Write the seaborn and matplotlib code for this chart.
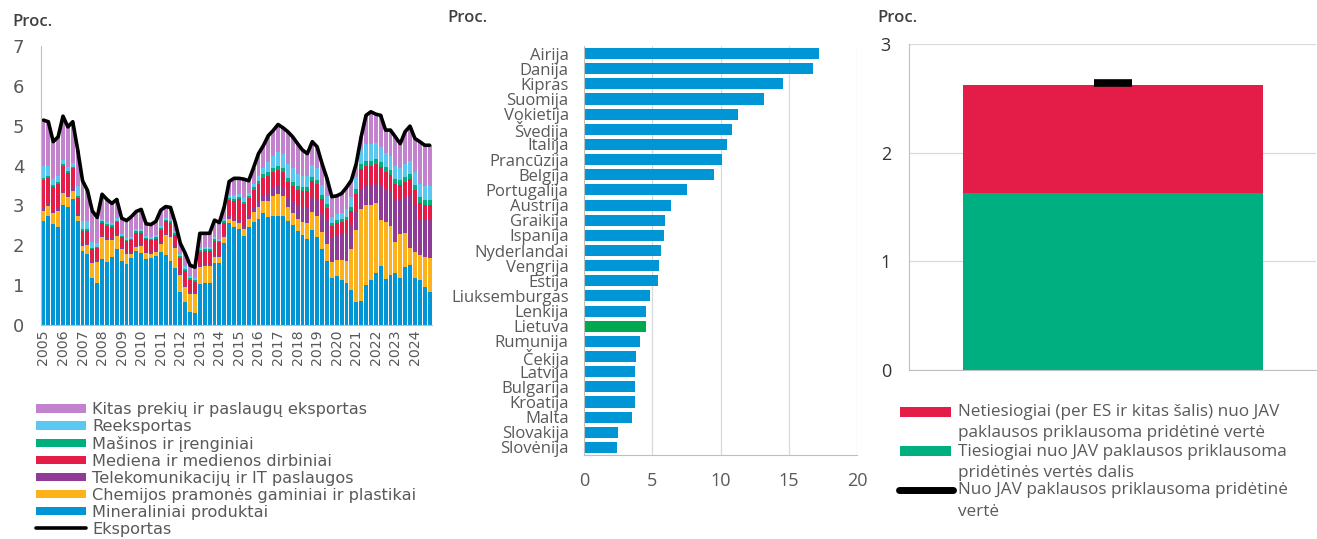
import numpy as np
import pandas as pd
import matplotlib
matplotlib.use('Agg')
import matplotlib.pyplot as plt
import seaborn as sns
from matplotlib.lines import Line2D
from matplotlib.patches import Rectangle

# ---------------- left panel: export contributions by quarter ----------------
years = list(range(2005, 2025))

mineral = [2.60, 2.73, 2.53, 2.46, 3.00, 2.95, 3.15, 2.62, 1.85, 1.78, 1.17, 1.06,
           1.65, 1.58, 1.71, 1.90, 1.60, 1.52, 1.68, 1.86, 1.80, 1.65, 1.68, 1.72,
           1.82, 1.75, 1.60, 1.42, 0.84, 0.58, 0.33, 0.29, 1.04, 1.05, 1.05, 1.56,
           1.55, 2.05, 2.55, 2.45, 2.42, 2.23, 2.46, 2.59, 2.67, 2.80, 2.70, 2.73,
           2.73, 2.73, 2.60, 2.50, 2.36, 2.26, 2.15, 2.38, 2.21, 1.90, 1.61, 1.19,
           1.23, 1.14, 1.06, 0.88, 0.58, 0.61, 1.00, 1.13, 1.31, 1.49, 1.15, 1.25,
           1.31, 1.17, 1.45, 1.51, 1.19, 1.13, 0.96, 0.84]
chem = [0.27, 0.25, 0.27, 0.40, 0.30, 0.25, 0.22, 0.12, 0.12, 0.22, 0.38, 0.53,
        0.57, 0.56, 0.42, 0.33, 0.30, 0.25, 0.10, 0.10, 0.17, 0.15, 0.10, 0.10,
        0.22, 0.50, 0.62, 0.50, 0.42, 0.38, 0.45, 0.50, 0.42, 0.42, 0.42, 0.15,
        0.15, 0.15, 0.12, 0.15, 0.15, 0.17, 0.20, 0.25, 0.30, 0.30, 0.40, 0.50,
        0.55, 0.50, 0.35, 0.30, 0.30, 0.33, 0.40, 0.46, 0.52, 0.44, 0.42, 0.40,
        0.40, 0.49, 0.55, 1.02, 1.80, 2.31, 2.01, 1.88, 1.74, 1.14, 1.44, 1.23,
        0.78, 1.11, 0.85, 0.41, 0.65, 0.62, 0.74, 0.83]
telecom = [0.08, 0.08, 0.07, 0.07, 0.06, 0.06, 0.06, 0.05, 0.05, 0.05, 0.05, 0.05,
           0.05, 0.05, 0.05, 0.05, 0.05, 0.05, 0.05, 0.05, 0.05, 0.05, 0.05, 0.05,
           0.05, 0.05, 0.05, 0.05, 0.05, 0.05, 0.05, 0.05, 0.05, 0.05, 0.05, 0.05,
           0.05, 0.05, 0.06, 0.06, 0.08, 0.08, 0.08, 0.10, 0.12, 0.15, 0.18, 0.20,
           0.20, 0.22, 0.25, 0.30, 0.35, 0.38, 0.42, 0.38, 0.40, 0.48, 0.60, 0.60,
           0.62, 0.65, 0.70, 0.60, 0.46, 0.50, 0.47, 0.50, 0.50, 0.88, 0.81, 0.86,
           1.06, 0.85, 0.90, 1.35, 1.14, 0.92, 0.93, 0.96]
wood = [0.70, 0.62, 0.60, 0.60, 0.62, 0.55, 0.50, 0.40, 0.35, 0.32, 0.30, 0.28,
        0.30, 0.30, 0.28, 0.30, 0.25, 0.28, 0.30, 0.30, 0.30, 0.30, 0.30, 0.30,
        0.30, 0.30, 0.30, 0.30, 0.38, 0.35, 0.30, 0.25, 0.32, 0.34, 0.34, 0.35,
        0.32, 0.32, 0.40, 0.45, 0.50, 0.55, 0.45, 0.45, 0.45, 0.45, 0.45, 0.40,
        0.40, 0.38, 0.40, 0.40, 0.38, 0.38, 0.38, 0.40, 0.40, 0.35, 0.30, 0.30,
        0.30, 0.30, 0.32, 0.35, 0.45, 0.50, 0.50, 0.48, 0.48, 0.45, 0.45, 0.42,
        0.40, 0.38, 0.40, 0.40, 0.40, 0.40, 0.38, 0.38]
machinery = [0.05, 0.05, 0.05, 0.05, 0.05, 0.05, 0.04, 0.04, 0.04, 0.04, 0.04, 0.04,
             0.04, 0.04, 0.04, 0.04, 0.04, 0.04, 0.04, 0.04, 0.04, 0.04, 0.04, 0.04,
             0.05, 0.04, 0.04, 0.04, 0.04, 0.04, 0.04, 0.04, 0.04, 0.04, 0.04, 0.04,
             0.04, 0.04, 0.05, 0.05, 0.05, 0.05, 0.05, 0.06, 0.07, 0.08, 0.10, 0.10,
             0.10, 0.10, 0.10, 0.10, 0.10, 0.10, 0.10, 0.10, 0.10, 0.10, 0.10, 0.08,
             0.08, 0.08, 0.08, 0.10, 0.12, 0.12, 0.13, 0.13, 0.13, 0.12, 0.12, 0.12,
             0.12, 0.12, 0.12, 0.12, 0.13, 0.13, 0.13, 0.13]
reexport = [0.30, 0.25, 0.15, 0.15, 0.12, 0.10, 0.10, 0.25, 0.20, 0.20, 0.15, 0.10,
            0.06, 0.06, 0.06, 0.06, 0.05, 0.05, 0.05, 0.05, 0.05, 0.05, 0.05, 0.05,
            0.05, 0.05, 0.05, 0.06, 0.06, 0.08, 0.06, 0.05, 0.05, 0.05, 0.05, 0.05,
            0.05, 0.05, 0.08, 0.10, 0.08, 0.10, 0.08, 0.10, 0.12, 0.15, 0.25, 0.30,
            0.35, 0.35, 0.35, 0.35, 0.30, 0.30, 0.30, 0.30, 0.30, 0.25, 0.20, 0.15,
            0.15, 0.15, 0.20, 0.25, 0.30, 0.38, 0.42, 0.42, 0.40, 0.38, 0.35, 0.35,
            0.32, 0.30, 0.32, 0.32, 0.32, 0.35, 0.35, 0.35]
other = [1.14, 1.12, 0.93, 0.99, 1.09, 1.01, 1.03, 0.92, 1.01, 0.77, 0.77, 0.64,
         0.61, 0.56, 0.49, 0.47, 0.39, 0.43, 0.50, 0.45, 0.49, 0.30, 0.30, 0.34,
         0.39, 0.28, 0.29, 0.20, 0.26, 0.32, 0.27, 0.27, 0.38, 0.35, 0.35, 0.43,
         0.41, 0.31, 0.34, 0.42, 0.40, 0.48, 0.30, 0.40, 0.57, 0.57, 0.67, 0.65,
         0.70, 0.67, 0.80, 0.77, 0.76, 0.64, 0.55, 0.58, 0.54, 0.53, 0.45, 0.50,
         0.46, 0.49, 0.54, 0.43, 0.34, 0.30, 0.73, 0.81, 0.73, 0.80, 0.57, 0.66,
         0.73, 0.62, 0.81, 0.88, 0.85, 1.05, 1.02, 1.02]
exports = [5.14, 5.10, 4.60, 4.72, 5.24, 4.97, 5.10, 4.40, 3.62, 3.38, 2.86, 2.70,
           3.28, 3.15, 3.05, 3.15, 2.68, 2.62, 2.72, 2.85, 2.90, 2.54, 2.52, 2.60,
           2.88, 2.97, 2.95, 2.55, 2.05, 1.80, 1.50, 1.45, 2.30, 2.30, 2.30, 2.63,
           2.57, 2.97, 3.60, 3.68, 3.68, 3.66, 3.62, 3.95, 4.30, 4.50, 4.75, 4.88,
           5.03, 4.95, 4.85, 4.72, 4.55, 4.39, 4.30, 4.60, 4.47, 4.05, 3.68, 3.22,
           3.24, 3.30, 3.45, 3.63, 4.05, 4.72, 5.26, 5.35, 5.29, 5.26, 4.89, 4.89,
           4.72, 4.55, 4.85, 4.99, 4.68, 4.60, 4.51, 4.51]

# bottom-to-top stacking order
layers = [
    ('Mineraliniai produktai', mineral, '#0096D6'),
    ('Chemijos pramonės gaminiai ir plastikai', chem, '#FDB11B'),
    ('Telekomunikacijų ir IT paslaugos', telecom, '#8E3C97'),
    ('Mediena ir medienos dirbiniai', wood, '#E31D48'),
    ('Mašinos ir įrenginiai', machinery, '#00B07C'),
    ('Reeksportas', reexport, '#5BC8F2'),
    ('Kitas prekių ir paslaugų eksportas', other, '#C282CE'),
]

# ---------------- middle panel: countries ----------------
countries = ['Airija', 'Danija', 'Kipras', 'Suomija', 'Vokietija', 'Švedija', 'Italija',
             'Prancūzija', 'Belgija', 'Portugalija', 'Austrija', 'Graikija', 'Ispanija',
             'Nyderlandai', 'Vengrija', 'Estija', 'Liuksemburgas', 'Lenkija', 'Lietuva',
             'Rumunija', 'Čekija', 'Latvija', 'Bulgarija', 'Kroatija', 'Malta',
             'Slovakija', 'Slovėnija']
country_share = [17.2, 16.8, 14.6, 13.2, 11.3, 10.85, 10.45, 10.1, 9.5, 7.55, 6.4, 5.95,
                 5.85, 5.65, 5.5, 5.4, 4.85, 4.55, 4.55, 4.1, 3.8, 3.7, 3.7, 3.7, 3.5,
                 2.5, 2.4]

# ---------------- right panel: value added dependent on US demand ----------------
direct_share = 1.63
indirect_share = 0.99
total_share = 2.64

grey_text = '#595959'
axis_grey = '#BFBFBF'
grid_grey = '#D9D9D9'

sns.set_theme(style='white')
plt.rcParams['font.family'] = ['DejaVu Sans']

fig = plt.figure(figsize=(13.17, 5.39), dpi=100)
W, H = 1317.0, 539.0


def fx(px):
    return px / W


def fy(py):
    return 1 - py / H


ax1 = fig.add_axes([fx(41), fy(325), fx(432) - fx(41), fy(46) - fy(325)])
ax2 = fig.add_axes([fx(584), fy(455), fx(857) - fx(584), fy(46) - fy(455)])
ax3 = fig.add_axes([fx(909), fy(370), fx(1316) - fx(909), fy(44) - fy(370)])

# ---- left chart ----
x = np.arange(len(exports))
bottom = np.zeros(len(x))
for label, vals, col in layers:
    ax1.bar(x, vals, bottom=bottom, width=0.8, color=col, label=label, linewidth=0)
    bottom = bottom + np.array(vals)
sns.lineplot(x=x, y=exports, ax=ax1, color='black', linewidth=2.6, label='Eksportas')
for ln in ax1.lines:
    ln.set_solid_joinstyle('round')

ax1.set_xlim(-0.5, len(x) - 0.5)
ax1.set_ylim(0, 7)
ax1.set_yticks(range(0, 8))
ax1.set_xticks(x[::4])
ax1.set_xticklabels([str(y) for y in years], rotation=90)
ax1.tick_params(axis='y', labelsize=13, colors=grey_text, length=0, pad=12)
ax1.tick_params(axis='x', labelsize=10.2, colors=grey_text, length=0, pad=3)
for s in ['top', 'right']:
    ax1.spines[s].set_visible(False)
for s in ['left', 'bottom']:
    ax1.spines[s].set_color(axis_grey)
    ax1.spines[s].set_linewidth(0.8)
ax1.set_xlabel('')
ax1.set_ylabel('')

handles, labels = ax1.get_legend_handles_labels()
order = [labels.index(l[0]) for l in layers[::-1]] + [labels.index('Eksportas')]
ax1.legend([handles[i] for i in order], [labels[i] for i in order],
           loc='upper left', bbox_to_anchor=(fx(36), fy(402)), bbox_transform=fig.transFigure,
           frameon=False, fontsize=11.6, labelspacing=0.12, handlelength=3.1,
           handleheight=0.45, handletextpad=0.4, borderpad=0, borderaxespad=0,
           labelcolor=grey_text)
fig.text(fx(12), fy(22), 'Proc.', fontsize=12, color='#404040', va='center', ha='left',
         family=['Open Sans', 'DejaVu Sans'], weight='semibold')

# ---- middle chart ----
df_c = pd.DataFrame({'country': countries, 'share': country_share})
palette = {c: ('#00A94F' if c == 'Lietuva' else '#0096D6') for c in countries}
sns.barplot(data=df_c, x='share', y='country', hue='country', palette=palette,
            legend=False, width=0.73, ax=ax2, saturation=1, linewidth=0)
ax2.set_xlim(0, 20)
ax2.set_xticks([0, 5, 10, 15, 20])
ax2.xaxis.grid(True, color=grid_grey, linewidth=0.9)
ax2.set_axisbelow(True)
ax2.set_xlabel('')
ax2.set_ylabel('')
ax2.tick_params(axis='y', labelsize=12, colors=grey_text, length=0, pad=11)
ax2.tick_params(axis='x', labelsize=13, colors=grey_text, length=0, pad=12)
for t in ax2.get_yticklabels() + ax2.get_xticklabels():
    t.set_family(['Open Sans', 'DejaVu Sans'])
for s in ['top', 'right']:
    ax2.spines[s].set_visible(False)
for s in ['left', 'bottom']:
    ax2.spines[s].set_color(axis_grey)
    ax2.spines[s].set_linewidth(0.8)
fig.text(fx(447), fy(18), 'Proc.', fontsize=12, color='#404040', va='center', ha='left',
         family=['Open Sans', 'DejaVu Sans'], weight='semibold')

# ---- right chart ----
green, red = '#00AF80', '#E31C48'
ax3.bar(0, direct_share, width=1.0, color=green, linewidth=0)
ax3.bar(0, indirect_share, bottom=direct_share, width=1.0, color=red, linewidth=0)
ax3.plot([0], [total_share], marker='_', markersize=27, markeredgewidth=5.5, color='black')
ax3.set_xlim(-0.68, 0.675)
ax3.set_ylim(0, 3)
ax3.set_yticks([0, 1, 2, 3])
ax3.set_xticks([])
ax3.yaxis.grid(True, color=grid_grey, linewidth=0.9)
ax3.set_axisbelow(True)
ax3.tick_params(axis='y', labelsize=13, colors='#333333', length=0, pad=13)
for t in ax3.get_yticklabels():
    t.set_family(['Open Sans', 'DejaVu Sans'])
for s in ['top', 'right']:
    ax3.spines[s].set_visible(False)
for s in ['left', 'bottom']:
    ax3.spines[s].set_color(axis_grey)
    ax3.spines[s].set_linewidth(0.8)
fig.text(fx(877), fy(18), 'Proc.', fontsize=12, color='#404040', va='center', ha='left',
         family=['Open Sans', 'DejaVu Sans'], weight='semibold')

# right legend, drawn by hand so the keys sit beside the first text line
leg_font = dict(fontsize=12.3, color=grey_text, va='center', ha='left',
                family=['Open Sans', 'DejaVu Sans'])
fig.add_artist(Rectangle((fx(900), fy(417)), fx(951) - fx(900), fy(407) - fy(417),
                         transform=fig.transFigure, color=red, lw=0))
fig.text(fx(958), fy(412), 'Netiesiogiai (per ES ir kitas šalis) nuo JAV', **leg_font)
fig.text(fx(958), fy(433), 'paklausos priklausoma pridėtinė vertė', **leg_font)
fig.add_artist(Rectangle((fx(900), fy(456)), fx(951) - fx(900), fy(446) - fy(456),
                         transform=fig.transFigure, color=green, lw=0))
fig.text(fx(958), fy(452), 'Tiesiogiai nuo JAV paklausos priklausoma', **leg_font)
fig.text(fx(958), fy(473), 'pridėtinės vertės dalis', **leg_font)
fig.add_artist(Line2D([fx(899), fx(953)], [fy(490), fy(490)], transform=fig.transFigure,
                      color='black', linewidth=5, solid_capstyle='round'))
fig.text(fx(958), fy(490), 'Nuo JAV paklausos priklausoma pridėtinė', **leg_font)
fig.text(fx(958), fy(512), 'vertė', **leg_font)

fig.savefig('out.png', dpi=100)
